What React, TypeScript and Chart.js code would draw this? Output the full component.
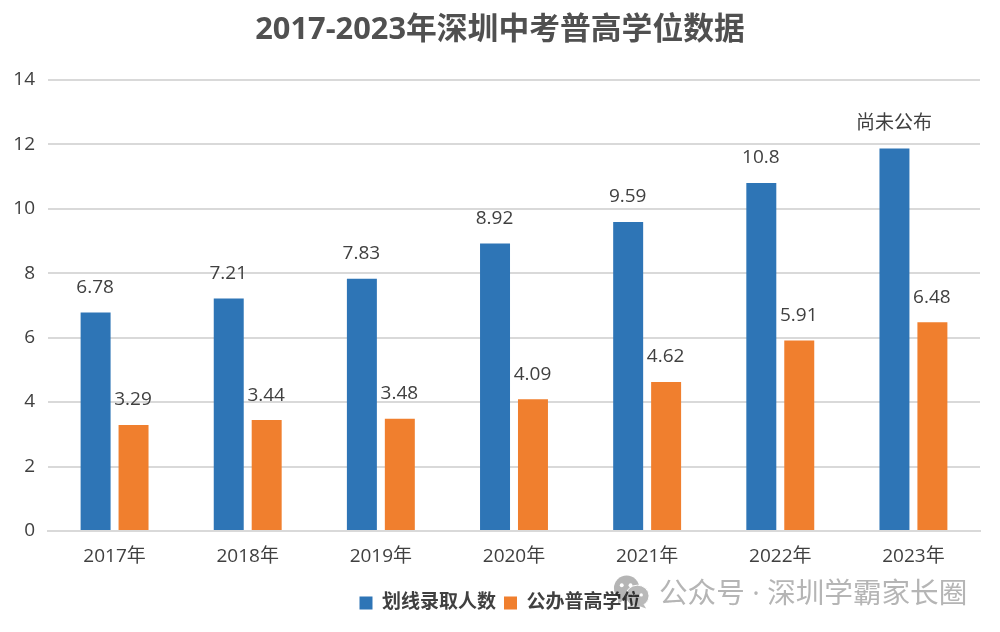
import React, { useEffect, useRef } from "react";
import { Chart, registerables } from "chart.js";

Chart.register(...registerables);

const categories = ["2017年", "2018年", "2019年", "2020年", "2021年", "2022年", "2023年"];
const admitted = [6.78, 7.21, 7.83, 8.92, 9.59, 10.8, 11.87];
const admittedLabels = ["6.78", "7.21", "7.83", "8.92", "9.59", "10.8", "尚未公布"];
const publicSeats = [3.29, 3.44, 3.48, 4.09, 4.62, 5.91, 6.48];
const publicLabels = ["3.29", "3.44", "3.48", "4.09", "4.62", "5.91", "6.48"];
const yTicks = [0, 2, 4, 6, 8, 10, 12, 14];
const titleText = "2017-2023年深圳中考普高学位数据";
const seriesNames = ["划线录取人数", "公办普高学位"];
const watermark = "公众号 · 深圳学霸家长圈";

const FONT = '"Open Sans","Noto Sans CJK SC",sans-serif';
const TEXT = "#404040";

const labelPlugin = {
  id: "barLabels",
  afterDatasetsDraw(chart: any) {
    const { ctx } = chart;
    const sets = [admittedLabels, publicLabels];
    ctx.save();
    ctx.font = `19px ${FONT}`;
    ctx.fillStyle = TEXT;
    ctx.textAlign = "center";
    ctx.textBaseline = "middle";
    sets.forEach((labels, d) => {
      chart.getDatasetMeta(d).data.forEach((bar: any, i: number) => {
        ctx.fillText(labels[i], bar.x - 0.5, bar.y - 25);
      });
    });
    ctx.restore();
  },
};

export default function App() {
  const ref = useRef<HTMLCanvasElement>(null);
  useEffect(() => {
    document.body.style.margin = "0";
    document.body.style.background = "#fff";
    const chart = new Chart(ref.current!, {
      type: "bar",
      data: {
        labels: categories,
        datasets: [
          { label: seriesNames[0], data: admitted, backgroundColor: "#2E75B6" },
          { label: seriesNames[1], data: publicSeats, backgroundColor: "#F07F2E" },
        ],
      },
      options: {
        responsive: false,
        animation: false,
        devicePixelRatio: 1,
        layout: { padding: { left: 20, right: 20, top: 0, bottom: 9.5 } },
        datasets: { bar: { categoryPercentage: 0.57, barPercentage: 0.79 } },
        plugins: {
          tooltip: { enabled: false },
          title: {
            display: true,
            text: titleText,
            color: "#505050",
            font: { family: FONT, size: 30.8, weight: "bold" },
            padding: { top: 12, bottom: 30.8 },
          },
          legend: {
            position: "bottom",
            labels: {
              color: TEXT,
              boxWidth: 13,
              boxHeight: 13,
              padding: 8,
              font: { family: FONT, size: 19, weight: "bold" },
            },
          },
        },
        scales: {
          x: {
            afterFit(axis: any) {
              axis.height = 54.5;
            },
            grid: { display: false },
            border: { color: "#D9D9D9", width: 2 },
            ticks: { color: TEXT, font: { family: FONT, size: 19 }, padding: 6 },
          },
          y: {
            min: 0,
            max: 14,
            afterFit(axis: any) {
              axis.width = 28;
            },
            afterBuildTicks(axis: any) {
              axis.ticks = yTicks.map((value) => ({ value }));
            },
            grid: { color: "#D9D9D9", lineWidth: 2, drawTicks: false },
            border: { display: false },
            ticks: {
              color: TEXT,
              font: { family: FONT, size: 19 },
              mirror: true,
              crossAlign: "far",
              padding: -34.7,
            },
          },
        },
      },
      plugins: [labelPlugin],
    } as any);
    return () => chart.destroy();
  }, []);

  return (
    <div style={{ position: "relative", width: 1000, height: 632, overflow: "hidden" }}>
      <canvas ref={ref} width={1000} height={632} style={{ display: "block" }} />
      <div
        style={{
          position: "absolute",
          left: 612,
          top: 574,
          display: "flex",
          alignItems: "center",
          gap: 8,
          color: "#b5b5b5",
          fontFamily: FONT,
          fontSize: 28.6,
          lineHeight: "36px",
          whiteSpace: "nowrap",
          mixBlendMode: "multiply",
        }}
      >
        <svg width="39" height="36" viewBox="0 0 40 36">
          <ellipse cx="15" cy="14" rx="13" ry="13" fill="#b5b5b5" />
          <path d="M7 22 L6 30 L14 25 Z" fill="#b5b5b5" />
          <ellipse cx="26" cy="22" rx="12" ry="11" fill="#b9b9b9" stroke="#fff" strokeWidth="1" />
          <path d="M32 30 L35 35 L27 32 Z" fill="#b9b9b9" />
          <circle cx="10" cy="11" r="2" fill="#fff" />
          <circle cx="19" cy="11" r="2" fill="#fff" />
          <circle cx="22" cy="21" r="1.7" fill="#fff" />
          <circle cx="30" cy="21" r="1.7" fill="#fff" />
        </svg>
        <span>{watermark}</span>
      </div>
    </div>
  );
}
